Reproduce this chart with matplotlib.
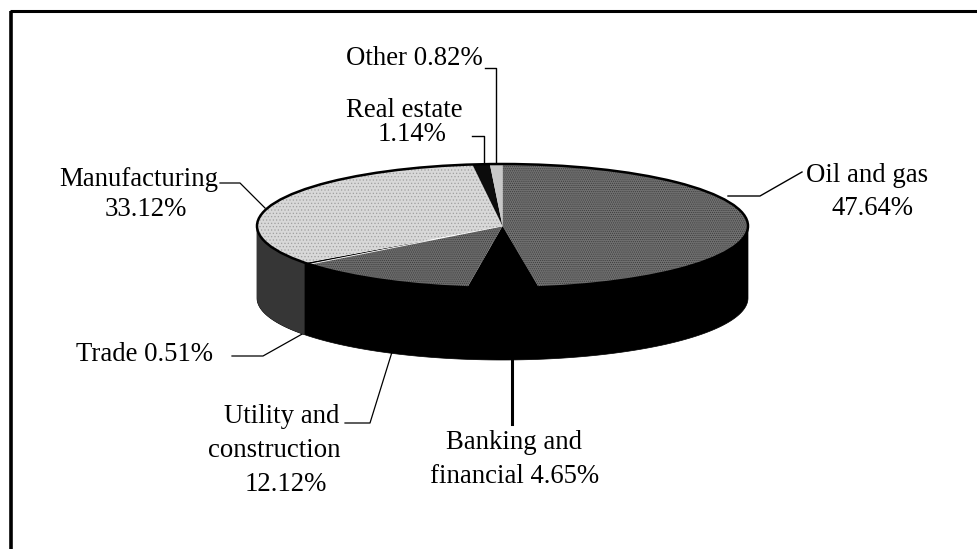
import matplotlib
matplotlib.use('Agg')
import matplotlib.pyplot as plt
import numpy as np
from matplotlib.patches import Ellipse

plt.rcParams['font.family'] = ['Liberation Serif', 'DejaVu Serif']
plt.rcParams['hatch.linewidth'] = 0.5

sectors = ['Oil and gas', 'Banking and financial', 'Utility and construction', 'Trade',
           'Manufacturing', 'Real estate', 'Other']
shares = [47.64, 4.65, 12.12, 0.51, 33.12, 1.14, 0.82]
top_colors = ['#707070', '#000000', '#6c6c6c', '#000000', '#d8d8d8', '#0c0c0c', '#c8c8c8']
side_colors = ['#000000', '#000000', '#000000', '#000000', '#363636', '#000000', '#000000']

# pixel geometry of the tilted pie
px_left, px_right = 257, 748
px_top, px_bottom = 164, 288
depth_px = 72
W, H = 977, 549

fig = plt.figure(figsize=(W/100, H/100), dpi=100)

# page axes in image pixels, for frame, leaders and labels
page = fig.add_axes([0, 0, 1, 1])
page.set_xlim(0, W)
page.set_ylim(H, 0)
page.axis('off')

page.plot([11, 11], [H, 11], color='black', lw=2.6, solid_capstyle='butt')
page.plot([10, W], [11, 11], color='black', lw=2.2, solid_capstyle='butt')

leaders = [
    ([728, 760, 802], [196, 196, 172], 1.0),
    ([512, 512], [360, 424], 2.2),
    ([392, 370, 345], [352, 423, 423], 0.9),
    ([304, 263, 232], [333, 356, 356], 0.9),
    ([265, 240, 220], [208, 183, 183], 0.9),
    ([484, 484, 472], [164, 136, 136], 1.0),
    ([496, 496, 485], [164, 68, 68], 1.0),
]
for xs, ys, lw in leaders:
    page.plot(xs, ys, color='black', lw=lw)

# x centre and baseline of each text line
labels = [
    (139, 186, 'Manufacturing'),
    (146, 216, '33.12%'),
    (414, 65, 'Other 0.82%'),
    (404, 117, 'Real estate'),
    (412, 141, '1.14%'),
    (867, 182, 'Oil and gas'),
    (873, 215, '47.64%'),
    (145, 361, 'Trade 0.51%'),
    (282, 423, 'Utility and'),
    (274, 457, 'construction'),
    (285.5, 491, '12.12%'),
    (514, 449, 'Banking and'),
    (515, 483, 'financial 4.65%'),
]
for x, y, s in labels:
    page.text(x, y, s, fontsize=19.3, ha='center', va='baseline', color='black')

# pie axes span exactly the top ellipse
pie_ax = fig.add_axes([px_left/W, 1 - px_bottom/H, (px_right-px_left)/W, (px_bottom-px_top)/H])
pie_ax.patch.set_alpha(0)
wedges, _ = pie_ax.pie(shares, startangle=90, counterclock=False, radius=1, colors=top_colors,
                       wedgeprops=dict(linewidth=0))
pie_ax.set_aspect('auto')
pie_ax.set_xlim(-1, 1)
pie_ax.set_ylim(-1, 1)
pie_ax.axis('off')

# black wall under the whole rim, then the lighter sectors on top of it
depth = depth_px / ((px_bottom-px_top)/2)
t = np.radians(np.linspace(180, 360, 200))
pie_ax.fill(np.r_[np.cos(t), np.cos(t)[::-1]], np.r_[np.sin(t), np.sin(t)[::-1]-depth],
            color='black', lw=0.5, zorder=0, clip_on=False)
for w, col in zip(wedges, side_colors):
    if col == '#000000':
        continue
    t1, t2 = sorted((w.theta1, w.theta2))
    t = np.radians(np.linspace(t1, t2, 80))
    keep = np.sin(t) <= 0.02
    x = np.cos(t[keep])
    y = np.sin(t[keep])
    pie_ax.fill(np.r_[x, x[::-1]], np.r_[y, y[::-1]-depth], color=col, lw=0,
                zorder=0.5, clip_on=False)

pie_ax.add_patch(Ellipse((0, 0), 2, 2, fill=False, ec='black', lw=1.8, clip_on=False, zorder=5))
wedges[3].set_edgecolor('white')
wedges[3].set_linewidth(0.6)

# halftone look of the scan on the grey faces
wedges[0].set(hatch='........', edgecolor='#3a3a3a', linewidth=0)
wedges[2].set(hatch='........', edgecolor='#3a3a3a', linewidth=0)
wedges[4].set(hatch='.....', edgecolor='#a0a0a0', linewidth=0)

fig.savefig('out.png', dpi=100)
